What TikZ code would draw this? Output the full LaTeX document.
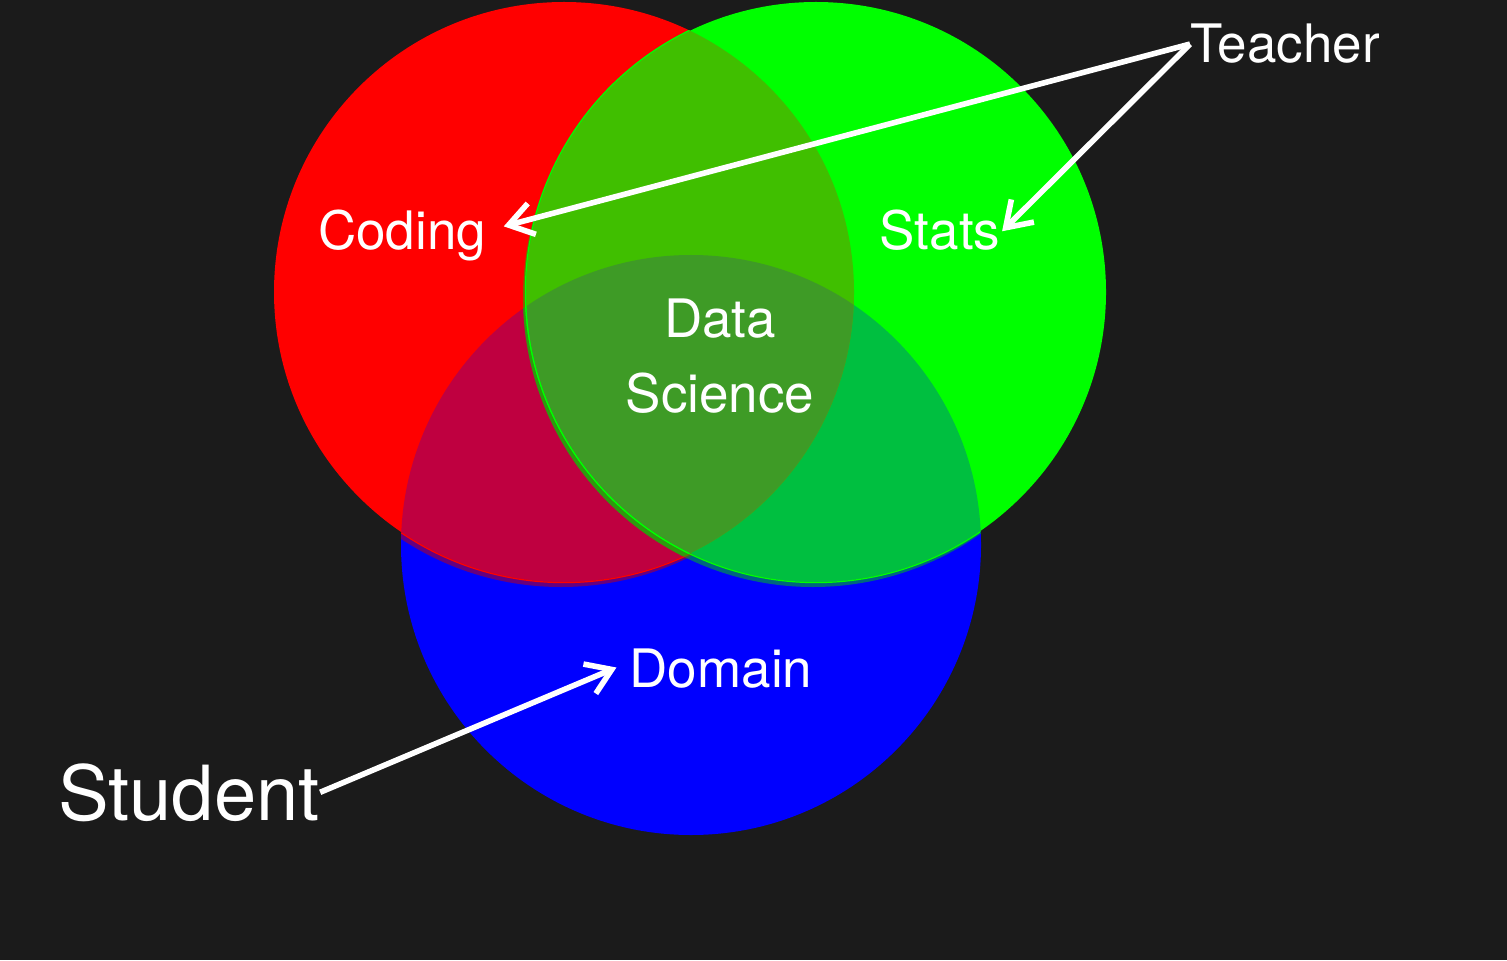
\documentclass[tikz,border=0pt]{standalone}
\usepackage{fontspec}
\setmainfont{TeX Gyre Heros}
\usetikzlibrary{arrows.meta}
\definecolor{bg}{HTML}{1B1B1B}
\definecolor{codingred}{HTML}{FF0000}
\definecolor{statsgreen}{HTML}{00FF00}
\definecolor{domainblue}{HTML}{0000FF}
\definecolor{redblue}{HTML}{BF0040}
\definecolor{greenblue}{HTML}{00BF40}
\definecolor{redgreen}{HTML}{40BF00}
\definecolor{core}{HTML}{3E9B26}
\def\R{145pt}

\begin{document}
\begin{tikzpicture}[x=0.5pt,y=0.5pt,
  lbl/.style={text=white,inner sep=0pt,anchor=base,font=\fontsize{26.5}{37.5}\selectfont},
  pointer/.style={draw=white,line width=2.8pt,-{Straight Barb[length=12pt,width=16pt]}}]
  \fill[bg] (0,0) rectangle (1507,960);
  \coordinate (cr) at (564,668);
  \coordinate (cg) at (816,668);
  \coordinate (cb) at (691,415);
  \fill[domainblue] (cb) circle (\R);
  \fill[codingred] (cr) circle (\R);
  \fill[statsgreen] (cg) circle (\R);
  % overlaps
  \begin{scope}\clip (cb) circle (\R); \fill[redblue] (cr) circle (\R); \fill[greenblue] (cg) circle (\R);\end{scope}
  \begin{scope}\clip (cr) circle (\R); \fill[redgreen] (cg) circle (\R); \clip (cg) circle (\R); \fill[core] (cb) circle (\R);\end{scope}
  % rims under the upper discs
  \foreach \a/\b/\c/\d in {cr/cb/codingred/cg,cg/cb/statsgreen/cg,cg/cr/statsgreen/cg}{
    \begin{scope}
      \clip (\b) circle (\R);
      \begin{scope}[even odd rule]
        \clip (0,0) rectangle (1507,960) (\a) circle (\R);
        \clip (0,0) rectangle (1507,960) (\d) circle (\R);
        \fill[\c!80!black,opacity=.5] ([shift={(-3,-5)}]\a) circle (\R);
        \draw[\c,line width=1.2pt] (\a) circle (\R);
      \end{scope}
    \end{scope}}
  \node[lbl] (coding) at (402,710) {Coding};
  \node[lbl] (stats) at (940,710) {Stats};
  \node[lbl,anchor=center,align=center] (datasci) at (720,604) {Data\\Science};
  \node[lbl] (domain) at (721,273) {Domain};
  \node[lbl,anchor=base west] (teacher) at (1190,897) {Teacher};
  \node[lbl,font=\fontsize{38}{38}\selectfont] (student) at (189,140) {Student};
  \draw[pointer,shorten >=9pt] (teacher.west) -- ([yshift=2.5pt]coding.east);
  \draw[pointer,shorten >=1pt] (teacher.west) -- ([yshift=-1pt]stats.east);
  \draw[pointer,shorten >=7pt] (student.east) -- ([yshift=3pt]domain.west);
\end{tikzpicture}
\end{document}
